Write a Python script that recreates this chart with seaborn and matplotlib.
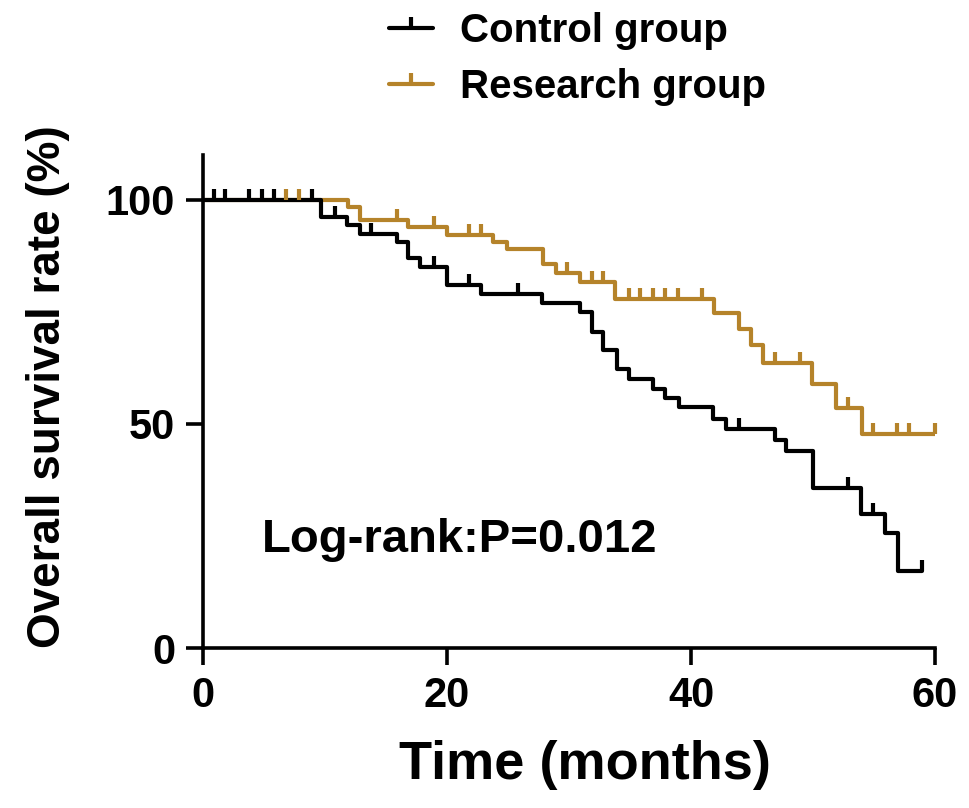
import numpy as np
import pandas as pd
import seaborn as sns
import matplotlib.pyplot as plt
from matplotlib.lines import Line2D

# step points (months, survival %)
control_t = [0, 9.7, 11.8, 12.9, 15.9, 16.8, 17.8, 20.0, 22.8, 27.8, 30.9, 31.9, 32.8,
             33.9, 34.9, 36.9, 37.9, 39.0, 41.8, 42.9, 46.9, 47.8, 50.0, 53.9, 55.9,
             57.0, 58.9]
control_s = [100, 96.1, 94.5, 92.4, 90.7, 87.0, 85.1, 81.0, 79.1, 76.9, 75.0, 70.6, 66.4,
             62.3, 60.1, 57.8, 55.8, 53.7, 51.1, 48.9, 46.5, 44.0, 35.8, 29.8, 25.7,
             17.1, 17.1]
control_cens = [0.9, 1.8, 3.8, 4.8, 5.8, 8.9, 10.8, 13.8, 18.9, 21.8, 25.8, 43.9,
                52.9, 54.9, 58.9]

research_t = [0, 11.9, 12.9, 16.8, 20.0, 23.8, 24.9, 27.9, 28.9, 30.9, 33.8, 41.9,
              43.9, 44.9, 45.9, 49.9, 51.9, 54.0, 60.0]
research_s = [100, 98.4, 95.6, 93.9, 92.2, 90.7, 89.1, 85.6, 83.6, 81.6, 77.8, 74.8,
              71.3, 67.7, 63.5, 59.0, 53.5, 47.8, 47.8]
research_cens = [6.8, 7.9, 15.9, 18.9, 21.8, 22.8, 29.8, 31.9, 32.8, 34.9, 35.8, 36.9,
                 37.9, 38.9, 40.9, 46.9, 48.9, 52.9, 54.9, 56.9, 57.9, 60.0]

groups = ['Control group', 'Research group']
colors = {'Control group': '#000000', 'Research group': '#B5832A'}

df = pd.concat([
    pd.DataFrame({'Time': control_t, 'Survival': control_s, 'Group': groups[0]}),
    pd.DataFrame({'Time': research_t, 'Survival': research_s, 'Group': groups[1]}),
], ignore_index=True)

sns.set_style('ticks', {'axes.edgecolor': 'black', 'xtick.color': 'black',
                        'ytick.color': 'black', 'text.color': 'black',
                        'axes.labelcolor': 'black'})
plt.rcParams['font.family'] = ['Liberation Sans', 'DejaVu Sans']
plt.rcParams['font.weight'] = 'bold'

fig = plt.figure(figsize=(9.69, 8.08), dpi=100)
ax = fig.add_axes([0.2095, 0.198, 0.7555, 0.610])

LW = 3.0
AX_LW = 2.6
# draw research first so control sits on top
for g in [groups[1], groups[0]]:
    sub = df[df.Group == g]
    sns.lineplot(data=sub, x='Time', y='Survival', color=colors[g], drawstyle='steps-post',
                 estimator=None, linewidth=LW, ax=ax, legend=False)

cens = {groups[0]: control_cens, groups[1]: research_cens}
for g in [groups[1], groups[0]]:
    sub = df[df.Group == g]
    t = sub.Time.values
    s = sub.Survival.values
    c = np.array(cens[g])
    idx = np.searchsorted(t, c, side='right') - 1
    ax.plot(c, s[idx], linestyle='none', marker=2, markersize=8, mew=LW,
            color=colors[g], clip_on=False)

ax.set_xlim(0, 60)
ax.set_ylim(0, 110)
ax.set_xticks([0, 20, 40, 60])
ax.set_yticks([0, 50, 100])
sns.despine(ax=ax)
for sp in ['left', 'bottom']:
    ax.spines[sp].set_linewidth(AX_LW)
ax.tick_params(axis='both', length=12, width=AX_LW, pad=8, labelsize=30)
for lab in ax.get_xticklabels() + ax.get_yticklabels():
    lab.set_fontweight('bold')

ax.set_xlabel('Time (months)', fontsize=39, fontweight='bold')
ax.xaxis.set_label_coords(0.522, -0.186)
ax.set_ylabel('Overall survival rate (%)', fontsize=33, fontweight='bold')
ax.yaxis.set_label_coords(-0.182, 0.53)

ax.text(4.8, 24, 'Log-rank:P=0.012', fontsize=34, fontweight='bold', va='center')

handles = [Line2D([], [], color=colors[g], lw=LW, marker=2, markersize=8, mew=LW)
           for g in groups]
fig.legend(handles, groups, loc='upper left', bbox_to_anchor=(0.364, 1.03),
           frameon=False, handlelength=1.1, handletextpad=0.67,
           labelspacing=0.45, prop={'weight': 'bold', 'size': 29})

fig.savefig('out.png', dpi=100)
plt.close(fig)
